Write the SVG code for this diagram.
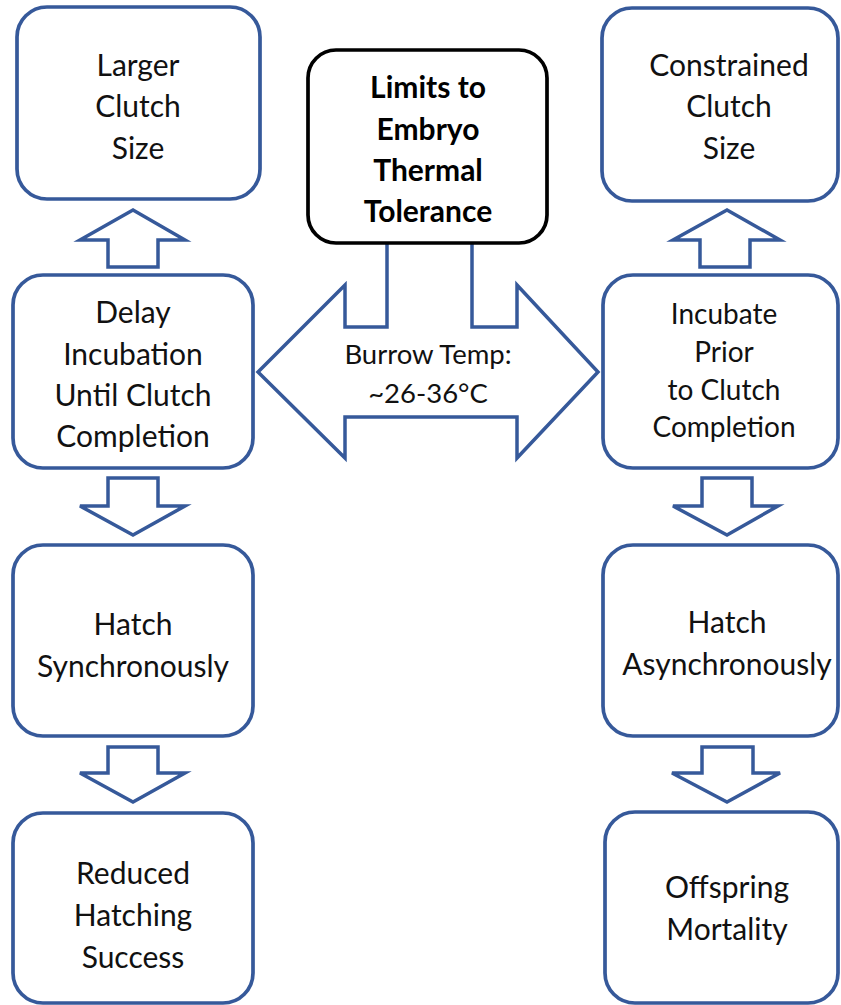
<svg xmlns="http://www.w3.org/2000/svg" width="841" height="1005" viewBox="0 0 841 1005">
<style>
.box{fill:#fff;stroke:#36599A;stroke-width:3.7}
.cbox{fill:#fff;stroke:#000;stroke-width:3.7}
.arr{fill:#fff;stroke:#36599A;stroke-width:3.5;stroke-linejoin:miter}
text{font-family:Lato,"Open Sans",sans-serif;font-size:30px;fill:#111;text-anchor:middle}
.b{font-weight:bold;font-size:30px;fill:#000}
.s{font-size:28px}
.m{font-size:27.5px}
</style>
<rect width="841" height="1005" fill="#fff"/>
<g id="connectors">
<path class="arr" d="M108 267 V240 H80 L133 210 L185 240 H158 V267 Z"/>
<path class="arr" d="M700 267 V240 H673 L727 210 L780 240 H750 V267 Z"/>
<path class="arr" d="M108 478 V506 H80 L133 535 L185 506 H158 V478 Z"/>
<path class="arr" d="M702 478 V506 H673 L727 535 L778 506 H752 V478 Z"/>
<path class="arr" d="M108 747 V773 H80 L133 802 L185 773 H158 V747 Z"/>
<path class="arr" d="M702 747 V773 H672 L727 802 L780 773 H753 V747 Z"/>
<path class="arr" d="M387 243 V327 H345 V285 L258 372 L345 458 V417 H517 V458 L598 372 L517 285 V327 H472 V243"/>
<text class="m" x="428" y="364">Burrow Temp:</text>
<text class="m" x="428" y="403">~26-36°C</text>
</g>
<g id="center">
<rect class="cbox" x="308" y="50" width="239" height="193" rx="28"/>
<text class="b" x="428" y="98">Limits to</text>
<text class="b" x="428" y="140">Embryo</text>
<text class="b" x="428" y="181">Thermal</text>
<text class="b" x="428" y="222">Tolerance</text>
</g>
<g id="larger">
<rect class="box" x="17" y="7" width="243" height="192" rx="30"/>
<text x="138" y="76">Larger</text>
<text x="138" y="117">Clutch</text>
<text x="138" y="159">Size</text>
</g>
<g id="constrained">
<rect class="box" x="602" y="8" width="236" height="193" rx="30"/>
<text x="729" y="76">Constrained</text>
<text x="729" y="117">Clutch</text>
<text x="729" y="159">Size</text>
</g>
<g id="delay">
<rect class="box" x="13" y="275" width="240" height="193" rx="30"/>
<text x="133" y="323">Delay</text>
<text x="133" y="365">Incubation</text>
<text x="133" y="406">Until Clutch</text>
<text x="133" y="447">Completion</text>
</g>
<g id="incubate">
<rect class="box" x="603" y="275" width="235" height="193" rx="30"/>
<text class="s" x="724" y="324">Incubate</text>
<text class="s" x="724" y="362">Prior</text>
<text class="s" x="724" y="400">to Clutch</text>
<text class="s" x="724" y="437">Completion</text>
</g>
<g id="sync">
<rect class="box" x="13" y="545" width="240" height="191" rx="30"/>
<text x="133" y="635">Hatch</text>
<text x="133" y="677">Synchronously</text>
</g>
<g id="async">
<rect class="box" x="603" y="545" width="235" height="191" rx="30"/>
<text x="727" y="633">Hatch</text>
<text x="727" y="675">Asynchronously</text>
</g>
<g id="reduced">
<rect class="box" x="13" y="813" width="240" height="190" rx="30"/>
<text x="133" y="884">Reduced</text>
<text x="133" y="926">Hatching</text>
<text x="133" y="968">Success</text>
</g>
<g id="offspring">
<rect class="box" x="605" y="812" width="233" height="191" rx="30"/>
<text x="727" y="898">Offspring</text>
<text x="727" y="940">Mortality</text>
</g>
</svg>
